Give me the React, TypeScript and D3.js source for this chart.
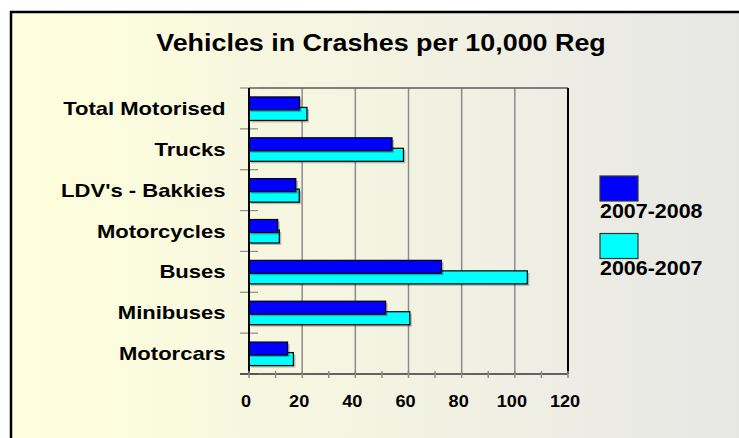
import React from "react";
import * as d3 from "d3";

const categories = [
  "Total Motorised",
  "Trucks",
  "LDV's - Bakkies",
  "Motorcycles",
  "Buses",
  "Minibuses",
  "Motorcars",
];
const values2008 = [19, 53.8, 17.6, 10.8, 72.4, 51.4, 14.5];
const values2007 = [21.8, 58.1, 18.9, 11.4, 104.7, 60.5, 16.7];
const seriesNames = ["2007-2008", "2006-2007"];
const seriesColors = ["#0000FF", "#00FFFF"];
const xTicks = [0, 20, 40, 60, 80, 100, 120];
const minorTicks = d3.range(0, 121, 10);

const font = "'Liberation Sans', Arial, sans-serif";
const W = 739;
const H = 438;
const margin = { top: 88, left: 249, right: 568, bottom: 374 };

export default function App() {
  const x = d3.scaleLinear().domain([0, 120]).range([margin.left, margin.right]);
  const y = d3.scaleBand().domain(categories).range([margin.top, margin.bottom]).padding(0);
  const bw = y.bandwidth();
  const barH = 13;

  const bandEdges = categories.map((c) => y(c) as number).concat([margin.bottom]);

  const drawBar = (v: number, cy: number, color: string, key: string) => (
    <g key={key}>
      <rect x={x(0) + 2} y={cy + 2} width={x(v) - x(0)} height={barH} fill="#000" opacity={0.25} />
      <rect x={x(0)} y={cy} width={x(v) - x(0)} height={barH} fill={color} stroke="#000" strokeWidth={1.2} />
    </g>
  );

  return (
    <svg width={W} height={H} style={{ position: "absolute", left: 0, top: 0 }}>
      <defs>
        <linearGradient id="bg" x1="0" x2="1" y1="0" y2="0">
          <stop offset="0%" stopColor="#FFFFDC" />
          <stop offset="50%" stopColor="#F3F3E2" />
          <stop offset="100%" stopColor="#E6E6E6" />
        </linearGradient>
      </defs>
      <rect x={0} y={0} width={W} height={H} fill="#fff" />
      <rect x={11} y={12} width={W + 10} height={H + 10} fill="url(#bg)" stroke="#000" strokeWidth={2.5} />

      <text
        transform="translate(381,50.5) scale(1.12,1)"
        textAnchor="middle"
        fontFamily={font}
        fontWeight="bold"
        fontSize={24}
        fill="#000"
      >
        Vehicles in Crashes per 10,000 Reg
      </text>

      {/* gridlines */}
      {xTicks.slice(1, -1).map((t) => (
        <line key={"g" + t} x1={x(t)} x2={x(t)} y1={margin.top} y2={margin.bottom} stroke="#8c8c8c" strokeWidth={1.5} />
      ))}
      <line x1={margin.left} x2={margin.right} y1={margin.top} y2={margin.top} stroke="#5a5a5a" strokeWidth={1.5} />
      <line x1={margin.right} x2={margin.right} y1={margin.top} y2={margin.bottom} stroke="#000" strokeWidth={2} />

      {/* bars */}
      {categories.map((c, i) => {
        const mid = (y(c) as number) + bw / 2;
        return (
          <g key={c}>
            {drawBar(values2007[i], mid - 1, seriesColors[1], "b")}
            {drawBar(values2008[i], mid - 11.5, seriesColors[0], "a")}
          </g>
        );
      })}

      {/* y axis */}
      {bandEdges.map((e, i) => (
        <line key={"yt" + i} x1={240} x2={258} y1={e} y2={e} stroke="#8c8c8c" strokeWidth={1.2} />
      ))}
      <line x1={margin.left} x2={margin.left} y1={margin.top} y2={margin.bottom} stroke="#000" strokeWidth={2} />
      {categories.map((c) => (
        <text
          key={"l" + c}
          transform={`translate(225.5,${(y(c) as number) + bw / 2 + 6.5}) scale(1.16,1)`}
          textAnchor="end"
          fontFamily={font}
          fontWeight="bold"
          fontSize={19}
          fill="#000"
        >
          {c}
        </text>
      ))}

      {/* x axis */}
      <line x1={240} x2={margin.right} y1={margin.bottom} y2={margin.bottom} stroke="#333" strokeWidth={1.5} />
      {minorTicks.map((t) => (
        <line key={"xt" + t} x1={x(t)} x2={x(t)} y1={margin.bottom - 3} y2={margin.bottom + 4} stroke="#8c8c8c" strokeWidth={1.5} />
      ))}
      {xTicks.map((t) => (
        <text
          key={"xl" + t}
          transform={`translate(${x(t) - 3},406.5) scale(1.1,1)`}
          textAnchor="middle"
          fontFamily={font}
          fontWeight="bold"
          fontSize={16.5}
          fill="#000"
        >
          {t}
        </text>
      ))}

      {/* legend */}
      {seriesNames.map((s, i) => (
        <g key={s} transform={`translate(600,${176 + i * 57.5})`}>
          <rect x={0} y={0} width={38} height={25} fill={seriesColors[i]} stroke="#333" strokeWidth={1.2} />
          <text
            transform="translate(0,41.5) scale(1.1,1)"
            fontFamily={font}
            fontWeight="bold"
            fontSize={19.5}
            fill="#000"
          >
            {s}
          </text>
        </g>
      ))}
    </svg>
  );
}
